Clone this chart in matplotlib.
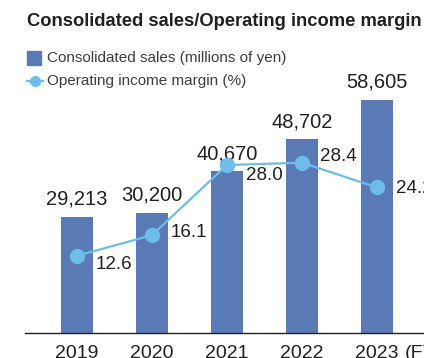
import matplotlib.pyplot as plt
from matplotlib.patches import Rectangle
from matplotlib.lines import Line2D

plt.rcParams["font.family"] = ["Liberation Sans", "DejaVu Sans"]

years = ["2019", "2020", "2021", "2022", "2023"]
sales = [29213, 30200, 40670, 48702, 58605]
margin = [12.6, 16.1, 28.0, 28.4, 24.2]
# label nudges for the margin values (pixels, right/up)
margin_offsets = [(19, -9), (19, 3), (19, -10), (18, 6), (19, -1)]

BAR = "#5a7ab6"
LINE = "#6cbde9"
INK = "#231f20"

W, H = 424, 358
fig = plt.figure(figsize=(W / 100, H / 100), dpi=100)


def px(x, y):
    return x / W, 1 - y / H


ax = fig.add_axes([25 / W, 25 / H, (W - 25) / W, 333 / H])
x = range(len(years))
ax.bar(x, sales, width=0.427, color=BAR, zorder=2)
ax.set_xlim(-0.693, 4.627)
ax.set_ylim(0, 83600)
for i, v in enumerate(sales):
    ax.annotate(f"{v:,}", (i, v), xytext=(0, 8), textcoords="offset pixels",
                ha="center", va="bottom", fontsize=14.5, color=INK)

for s in ["top", "left", "right"]:
    ax.spines[s].set_visible(False)
ax.spines["bottom"].set_color(INK)
ax.spines["bottom"].set_linewidth(1.0)
ax.set_yticks([])
ax.set_xticks(list(x))
ax.set_xticklabels(years, fontsize=14, color=INK)
ax.tick_params(axis="x", length=0, pad=9)

ax2 = ax.twinx()
ax2.set_ylim(-0.5, 56.0)
ax2.plot(x, margin, color=LINE, lw=1.6, marker="o", ms=10, zorder=3)
for i, (v, (dx, dy)) in enumerate(zip(margin, margin_offsets)):
    ax2.annotate(f"{v:.1f}", (i, v), xytext=(dx, dy), textcoords="offset pixels",
                 ha="left", va="center", fontsize=13.5, color=INK)
ax2.axis("off")

ax.annotate("(FY)", (4.37, 0), xycoords=ax.get_xaxis_transform(),
            xytext=(0, -9), textcoords="offset points", ha="left", va="top",
            fontsize=14, color=INK, annotation_clip=False)

# title and legend
fig.text(*px(27, 22), "Consolidated sales/Operating income margin",
         fontsize=13.2, fontweight="bold", color=INK, va="center")
fig.add_artist(Rectangle(px(27, 65), 14 / W, 14 / H, color=BAR,
                         transform=fig.transFigure))
fig.text(*px(47, 58), "Consolidated sales (millions of yen)",
         fontsize=11, color="#3d3d3d", va="center")
fig.add_artist(Line2D([27 / W, 43 / W], [1 - 81 / H] * 2, color=LINE, lw=1.6,
                      transform=fig.transFigure))
fig.add_artist(Line2D([35 / W], [1 - 81 / H], color=LINE, marker="o", ms=7,
                      transform=fig.transFigure))
fig.text(*px(47, 81), "Operating income margin (%)",
         fontsize=11, color="#3d3d3d", va="center")

fig.savefig("out.png", dpi=100)
